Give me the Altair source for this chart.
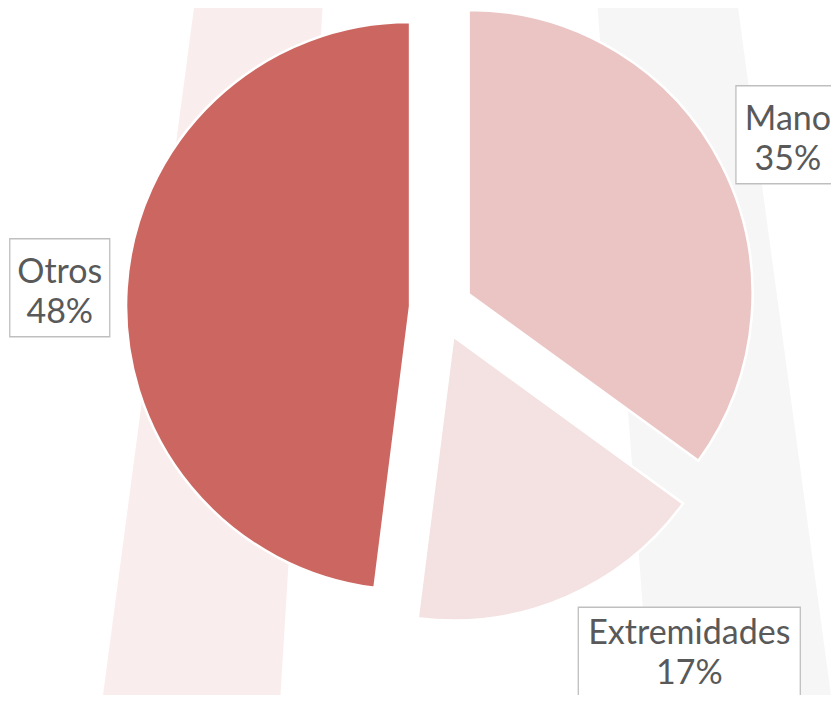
import altair as alt
import pandas as pd

# ---- data ----
categories = ["Mano", "Extremidades", "Otros"]
shares = [35, 17, 48]
slice_colors = ["#EBC5C4", "#F4E1E1", "#CC6660"]

# ---- layout (pixels, plot area starts at page offset 8) ----
OFF = 8
W, H = 839 - 2 * OFF, 703 - 2 * OFF
CX, CY = 441 - OFF, 308 - OFF
R = 284
EXPLODE = 31
LABEL_R = 355
label_dx = [3, 95, 4]
label_dy = [2, -6, 4]
text_dy = [0, -7, 0]
box_half_w = [52, 111, 50]
BOX_HALF_H = 49
TEXT_SHIFT = -15

# decorative background bands (page pixels): y, left x, right x
band_y = [0, 703]
pink_left = [195, 102]
pink_right = [323, 280]
gray_left = [597, 650]
gray_right = [737, 832]

df = pd.DataFrame({
    "cat": categories,
    "value": shares,
    "order": list(range(len(categories))),
    "ldx": label_dx,
    "ldy": label_dy,
    "tdy": text_dy,
    "bw": box_half_w,
})

pink = pd.DataFrame({"y": [v - OFF for v in band_y],
                     "xl": [v - OFF for v in pink_left],
                     "xr": [v - OFF for v in pink_right]})
gray = pd.DataFrame({"y": [v - OFF for v in band_y],
                     "xl": [v - OFF for v in gray_left],
                     "xr": [v - OFF for v in gray_right]})

def band(d, color):
    return alt.Chart(d).mark_area(orient="horizontal", color=color).encode(
        y=alt.Y("y:Q", scale=None, axis=None),
        x=alt.X("xl:Q", scale=None, axis=None),
        x2="xr:Q",
    )

base = (
    alt.Chart(df)
    .transform_joinaggregate(total="sum(value)")
    .transform_window(cum="sum(value)", sort=[alt.SortField("order")], frame=[None, 0])
    .transform_calculate(a1="2*PI*datum.cum/datum.total")
    .transform_calculate(a0="2*PI*(datum.cum-datum.value)/datum.total")
    .transform_calculate(mid="(datum.a0+datum.a1)/2")
    .transform_calculate(sx=f"{CX}+{EXPLODE}*sin(datum.mid)")
    .transform_calculate(sy=f"{CY}-{EXPLODE}*cos(datum.mid)")
    .transform_calculate(lx=f"datum.sx+{LABEL_R}*sin(datum.mid)+datum.ldx")
    .transform_calculate(ly=f"datum.sy-{LABEL_R}*cos(datum.mid)+datum.ldy")
    .transform_calculate(ty=f"datum.ly+datum.tdy+({TEXT_SHIFT})")
    .transform_calculate(bx0="datum.lx-datum.bw", bx1="datum.lx+datum.bw")
    .transform_calculate(by0=f"datum.ly-{BOX_HALF_H}", by1=f"datum.ly+{BOX_HALF_H}")
    .transform_calculate(label="datum.cat + '\\n' + datum.value + '%'")
)

slices = base.mark_arc(radius=R, stroke="white", strokeWidth=2.5).encode(
    x=alt.X("sx:Q", scale=None, axis=None),
    y=alt.Y("sy:Q", scale=None, axis=None),
    theta=alt.Theta("a0:Q", scale=None),
    theta2="a1:Q",
    color=alt.Color("cat:N", scale=alt.Scale(domain=categories, range=slice_colors), legend=None),
)

boxes = base.mark_rect(fill="white", stroke="#BFBFBF", strokeWidth=1.3).encode(
    x=alt.X("bx0:Q", scale=None, axis=None),
    x2="bx1:Q",
    y=alt.Y("by0:Q", scale=None, axis=None),
    y2="by1:Q",
)

texts = base.mark_text(
    font="Lato", fontSize=34, color="#595959", lineBreak="\n",
    lineHeight=40, align="center", baseline="middle",
).encode(
    x=alt.X("lx:Q", scale=None, axis=None),
    y=alt.Y("ty:Q", scale=None, axis=None),
    text="label:N",
)

chart = alt.layer(
    band(pink, "#FAEDED"), band(gray, "#F6F6F6"), slices, boxes, texts
).properties(
    width=W, height=H, padding=0, autosize="none", background="white"
).configure_view(stroke=None)

chart.save("out.html", embed_options={"renderer": "svg", "actions": False})
